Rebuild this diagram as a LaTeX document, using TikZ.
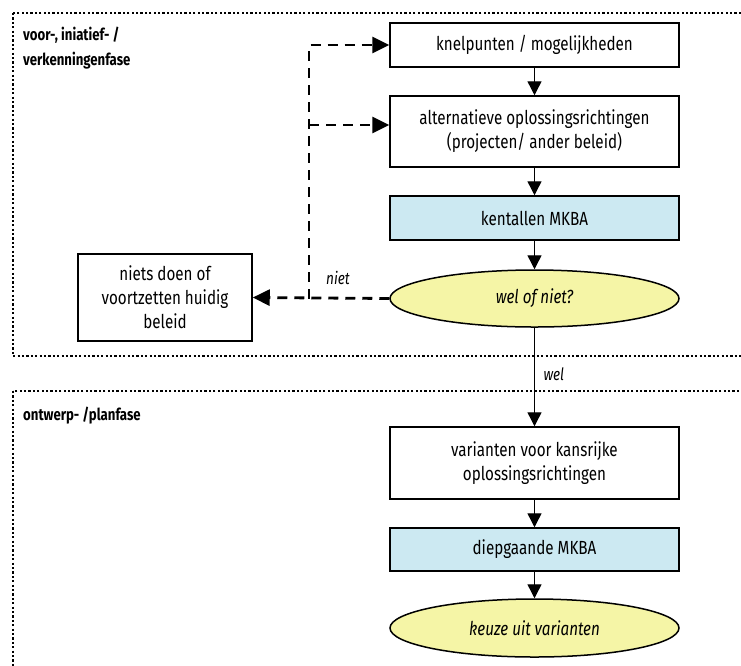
\documentclass[tikz,border=0pt]{standalone}
\usepackage{fontspec}
\setmainfont[FakeStretch=0.8]{Fira Sans}
\usetikzlibrary{arrows.meta,shapes.geometric}
\definecolor{mkbablauw}{RGB}{204,233,242}
\definecolor{keuzegeel}{RGB}{245,245,166}
\tikzset{
	stap/.style={draw, line width=1.5pt, minimum width=289pt, inner sep=0pt, align=center, font=\fontsize{19}{24}\selectfont},
	mkba/.style={stap, fill=mkbablauw},
	beslis/.style={stap, ellipse, fill=keuzegeel, font=\fontsize{19}{24}\selectfont\itshape},
	pijl/.style={-{Triangle[length=14pt,width=14pt]}, line width=1.4pt},
	stippelpijl/.style={-{Triangle[length=17pt,width=16pt]}, line width=2.8pt, dash pattern=on 10pt off 7pt},
	fasekader/.style={line width=2.4pt, dash pattern=on 2.2pt off 2.2pt},
	fasetekst/.style={inner sep=0pt, align=left, font=\fontsize{16.5}{25}\selectfont\bfseries},
	keuzetekst/.style={font=\fontsize{17}{20}\selectfont\itshape},
}

\begin{document}
\begin{tikzpicture}[x=1pt, y=-1pt]
			%%%%% START %%%%%
			
			\clip (0, 0) rectangle (741, 665);
			\fill[white] (0, 0) rectangle (741, 665);
			
			% fases
			\draw[fasekader] (13, 13) rectangle (760, 356);
			\draw[fasekader] (13, 391) rectangle (760, 700);
			\node[fasetekst, anchor=north west] (verkenning) at (23, 27) {voor-, iniatief- /\\verkenningenfase};
			\node[fasetekst, anchor=base west] (ontwerp) at (23, 420) {ontwerp- /planfase};
			
			% stappen
			\node[stap, minimum height=44pt] (knelpunten) at (534.5, 45) {knelpunten / mogelijkheden};
			\node[stap, minimum height=71pt] (alternatieven) at (534.5, 131.5) {alternatieve oplossingsrichtingen\\(projecten/ ander beleid)};
			\node[mkba, minimum height=44pt] (kentallen) at (534.5, 218) {kentallen MKBA};
			\node[beslis, minimum height=57pt] (welofniet) at (534.5, 298.5) {wel of niet?};
			\node[stap, minimum width=174pt, minimum height=87pt] (nietsdoen) at (165, 297.5) {niets doen of\\voortzetten huidig\\beleid};
			
			\node[stap, minimum height=72pt] (varianten) at (534.5, 463) {varianten voor kansrijke\\oplossingsrichtingen};
			\node[mkba, minimum height=43pt] (diepgaand) at (534.5, 549.5) {diepgaande MKBA};
			\node[beslis, minimum height=58pt] (keuze) at (534.5, 628) {keuze uit varianten};
			
			% pijlen
			\draw[pijl] (knelpunten) -- (alternatieven);
			\draw[pijl] (alternatieven) -- (kentallen);
			\draw[pijl] (kentallen) -- (welofniet);
			\draw[pijl] (welofniet) -- node[keuzetekst, right=5pt, pos=0.47] (wel) {wel} (varianten);
			\draw[pijl] (varianten) -- (diepgaand);
			\draw[pijl] (diepgaand) -- (keuze);
			
			% terugkoppeling
			\coordinate (knik) at (309, 298.5);
			\coordinate (tak) at (309, 125);
			\draw[stippelpijl] (welofniet.west) -- (nietsdoen.east);
			\draw[stippelpijl] (knik) |- (knelpunten.west);
			\draw[stippelpijl] (tak) -- (tak -| alternatieven.west);
			\node[keuzetekst] (niet) at (338, 278) {niet};
			
			%%%%% END %%%%%
\end{tikzpicture}
\end{document}
